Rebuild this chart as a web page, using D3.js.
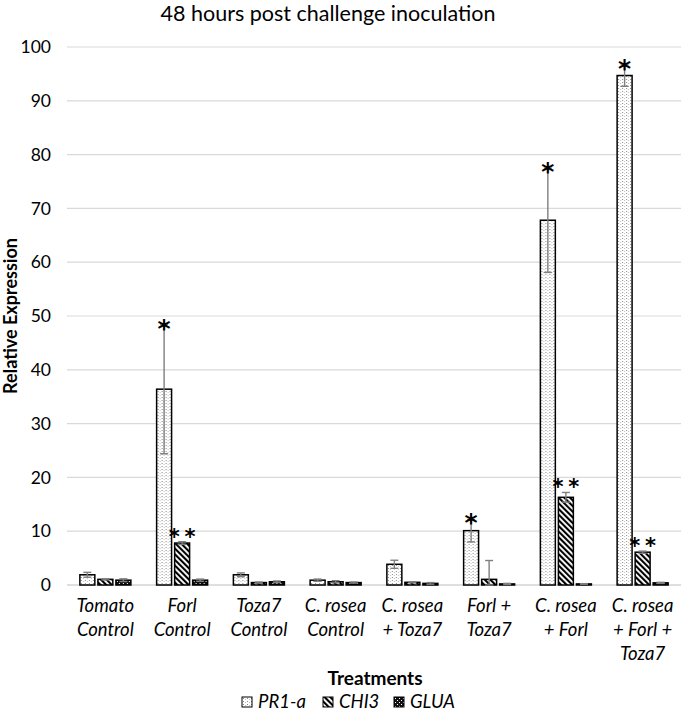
<!DOCTYPE html>
<html><head><meta charset="utf-8">
<script src="https://cdn.jsdelivr.net/npm/d3@7"></script>
<style>body{margin:0;background:#fff}svg{display:block}text{font-family:Lato,"Open Sans",sans-serif}</style>
</head><body><svg id="c" width="685" height="715"></svg>
<script>
const categories = ["Tomato|Control","Forl|Control","Toza7|Control","C. rosea|Control","C. rosea|+ Toza7","Forl +|Toza7","C. rosea|+ Forl","C. rosea|+ Forl +|Toza7"];
const seriesNames = ["PR1-a","CHI3","GLUA"];
const pr1a = [1.9, 36.4, 1.9, 0.9, 3.85, 10.1, 67.8, 94.7];
const chi3 = [1.05, 7.8, 0.45, 0.6, 0.5, 1.05, 16.3, 6.1];
const glua = [0.9, 0.9, 0.6, 0.45, 0.3, 0.2, 0.2, 0.4];
const pr1aErr = [0.45, 12, 0.35, 0.2, 0.75, 2.1, 9.7, 2.0];
const chi3Err = [0.1, 0.25, 0.1, 0.2, 0.1, 3.5, 0.9, 0.2];
const gluaErr = [0.25, 0.2, 0.15, 0.1, 0.15, 0.1, 0.05, 0.1];
const pr1aSig = ["","*","","","","*","*","*"];
const chi3Sig = ["","**","","","","","**","**"];
const yTicks = [0,10,20,30,40,50,60,70,80,90,100];

const series = [
  {name: seriesNames[0], values: pr1a, err: pr1aErr, sig: pr1aSig, fill: "url(#pDots)"},
  {name: seriesNames[1], values: chi3, err: chi3Err, sig: chi3Sig, fill: "url(#pDiag)"},
  {name: seriesNames[2], values: glua, err: gluaErr, sig: categories.map(()=>""), fill: "url(#pCheck)"}
];

const svg = d3.select("#c");
const PL = 67, PR = 681;
const defs = svg.append("defs");
const pd = defs.append("pattern").attr("id","pDots").attr("patternUnits","userSpaceOnUse").attr("width",4).attr("height",3);
pd.append("rect").attr("width",4).attr("height",3).attr("fill","#fff");
pd.append("rect").attr("x",1).attr("y",1).attr("width",1).attr("height",1).attr("fill","#8a8a8a");
pd.append("rect").attr("x",3).attr("y",2).attr("width",1).attr("height",1).attr("fill","#c0c0c0");
const pg = defs.append("pattern").attr("id","pDiag").attr("patternUnits","userSpaceOnUse").attr("width",4).attr("height",4).attr("patternTransform","rotate(-45)");
pg.append("rect").attr("width",4).attr("height",4).attr("fill","#fff");
pg.append("rect").attr("x",0).attr("y",0).attr("width",2.1).attr("height",4).attr("fill","#000");
const pc = defs.append("pattern").attr("id","pCheck").attr("patternUnits","userSpaceOnUse").attr("width",4).attr("height",4);
pc.append("rect").attr("width",4).attr("height",4).attr("fill","#111");
pc.append("rect").attr("x",1).attr("y",1).attr("width",1).attr("height",1).attr("fill","#fff");
pc.append("rect").attr("x",3).attr("y",3).attr("width",1).attr("height",1).attr("fill","#fff");

const y = d3.scaleLinear().domain([0,100]).range([585, 47]);
const x0 = d3.scaleBand().domain(categories).range([PL, PR]);
const x1 = d3.scaleBand().domain(seriesNames).range([0, 51]).paddingInner(0.17);

svg.append("g").selectAll("line").data(yTicks).join("line")
  .attr("x1",PL).attr("x2",PR).attr("y1",d=>y(d)).attr("y2",d=>y(d))
  .attr("stroke",d=>d===0?"#bfbfbf":"#d9d9d9").attr("stroke-width",1.2);

const yAxis = svg.append("g").attr("transform","translate(51,0)")
  .call(d3.axisLeft(y).tickValues(yTicks).tickSize(0).tickPadding(0));
yAxis.select(".domain").remove();
yAxis.selectAll("text").attr("font-size",17.5).attr("fill","#000").style("font-family","Lato, sans-serif");

const groups = svg.append("g").selectAll("g").data(categories).join("g")
  .attr("transform", d => `translate(${x0(d)+x0.bandwidth()/2-25.5},0)`);

series.forEach(s => {
  groups.append("rect")
    .attr("x", x1(s.name)).attr("width", x1.bandwidth())
    .attr("y", (d,i)=>y(s.values[i])).attr("height",(d,i)=>y(0)-y(s.values[i]))
    .attr("fill", s.fill).attr("stroke","#000").attr("stroke-width",1.5);
});
series.forEach(s => {
  const cx = x1(s.name)+x1.bandwidth()/2;
  groups.append("line").attr("x1",cx).attr("x2",cx)
    .attr("y1",(d,i)=>y(Math.max(0,s.values[i]-s.err[i]))).attr("y2",(d,i)=>y(s.values[i]+s.err[i]))
    .attr("stroke","#7f7f7f").attr("stroke-width",1.4);
  [1,-1].forEach(sign => {
    groups.append("line").attr("x1",cx-4).attr("x2",cx+4)
      .attr("y1",(d,i)=>y(Math.max(0,s.values[i]+sign*s.err[i]))).attr("y2",(d,i)=>y(Math.max(0,s.values[i]+sign*s.err[i])))
      .attr("stroke","#7f7f7f").attr("stroke-width",1.4);
  });
  groups.append("text")
    .attr("x", (d,i)=> cx + (s.sig[i]==="**"?2.5:0)).attr("text-anchor","middle")
    .attr("y",(d,i)=>y(s.values[i]+s.err[i]) + (s.sig[i]==="*"?12:2))
    .attr("font-size",(d,i)=>s.sig[i]==="*"?25:21)
    .attr("font-weight","bold")
    .attr("letter-spacing",(d,i)=>s.sig[i]==="**"?5:0)
    .style("font-family","'DejaVu Sans', sans-serif")
    .text((d,i)=>s.sig[i]);
});

svg.append("g").selectAll("text").data(categories).join("text")
  .attr("x", d=>x0(d)+x0.bandwidth()/2).attr("y",612)
  .attr("text-anchor","middle").attr("font-size",18.5).attr("font-style","italic")
  .each(function(d){
    d3.select(this).selectAll("tspan").data(d.split("|")).join("tspan")
      .attr("x", x0(d)+x0.bandwidth()/2).attr("dy",(t,i)=>i===0?0:24).text(t=>t);
  });

svg.append("text").attr("x",328).attr("y",21).attr("text-anchor","middle").attr("font-size",21.5).text("48 hours post challenge inoculation");
svg.append("text").attr("transform","translate(17,316) rotate(-90)").attr("text-anchor","middle").attr("font-size",18).attr("font-weight","bold").text("Relative Expression");
svg.append("text").attr("x",375).attr("y",685).attr("text-anchor","middle").attr("font-size",19).attr("font-weight","bold").text("Treatments");

const legX = [242, 323, 394];
const leg = svg.append("g").selectAll("g").data(series).join("g")
  .attr("transform",(d,i)=>`translate(${legX[i]},697)`);
leg.append("rect").attr("width",10).attr("height",10).attr("fill",d=>d.fill).attr("stroke","#000").attr("stroke-width",1);
leg.append("text").attr("x",16).attr("y",11).attr("font-size",18.5).attr("font-style","italic").text(d=>d.name);
</script></body></html>
